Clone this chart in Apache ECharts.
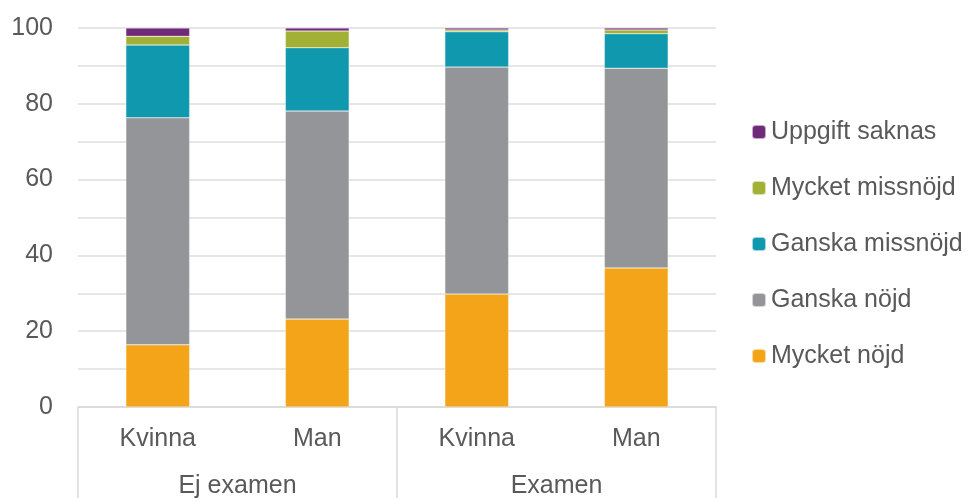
<!DOCTYPE html>
<html>
<head>
<meta charset="utf-8">
<script src="https://cdn.jsdelivr.net/npm/echarts@6/dist/echarts.min.js"></script>
<style>
  html, body { margin: 0; padding: 0; background: #fff; }
  #main { width: 980px; height: 498px; }
</style>
</head>
<body>
<div id="main"></div>
<script>
// data
var categories = ['Kvinna', 'Man', 'Kvinna', 'Man'];
var groups = ['Ej examen', 'Examen'];
var yTicks = [0, 20, 40, 60, 80, 100];

var mycketNojd = [16.4, 23.2, 29.8, 36.7];
var ganskaNojd = [59.9, 54.9, 59.9, 52.7];
var ganskaMissnojd = [19.2, 16.7, 9.3, 9.1];
var mycketMissnojd = [2.3, 4.4, 0.5, 1.0];
var uppgiftSaknas = [2.2, 0.8, 0.5, 0.5];

var seriesNames = ['Mycket nöjd', 'Ganska nöjd', 'Ganska missnöjd', 'Mycket missnöjd', 'Uppgift saknas'];
var seriesData = [mycketNojd, ganskaNojd, ganskaMissnojd, mycketMissnojd, uppgiftSaknas];
var colors = ['#F4A418', '#939598', '#1098AE', '#A2B136', '#6F2A7A'];

var txt = '#595959';
var font = 'Liberation Sans, Arial, sans-serif';

var myChart = echarts.init(document.getElementById('main'));

var series = seriesNames.map(function (name, i) {
    return {
        name: name,
        type: 'bar',
        stack: 'total',
        barWidth: '40%',
        data: seriesData[i],
        itemStyle: { color: colors[i], borderColor: 'rgba(255,255,255,0.6)', borderWidth: 0.5 }
    };
});

var option = {
    animation: false,
    textStyle: { fontFamily: font },
    grid: { left: 78, right: 264, top: 28, bottom: 91, containLabel: false, outerBoundsMode: 'none' },
    legend: {
        orient: 'vertical',
        left: 746,
        top: 113,
        itemWidth: 14,
        itemHeight: 14,
        itemGap: 28,
        data: seriesNames.slice().reverse(),
        textStyle: { color: txt, fontSize: 25, fontFamily: font, lineHeight: 28 }
    },
    xAxis: [
        {
            type: 'category',
            data: categories,
            axisLine: { show: true, lineStyle: { color: '#d9d9d9', width: 1.5 } },
            axisTick: { show: false },
            axisLabel: { color: txt, fontSize: 25, fontFamily: font, margin: 20 }
        },
        {
            type: 'category',
            position: 'bottom',
            data: groups,
            axisLine: { show: false },
            axisTick: { show: true, length: 95, lineStyle: { color: '#d9d9d9', width: 1.5 } },
            axisLabel: { color: txt, fontSize: 25, fontFamily: font, margin: 67 }
        }
    ],
    yAxis: {
        type: 'value',
        min: 0,
        max: 100,
        interval: 10,
        axisLine: { show: false },
        axisTick: { show: false },
        axisLabel: {
            color: txt, fontSize: 25, fontFamily: font, margin: 25,
            formatter: function (v) { return yTicks.indexOf(v) >= 0 ? v : ''; }
        },
        splitLine: { lineStyle: { color: '#dedede', width: 1.5 } }
    },
    series: series
};

myChart.setOption(option);
</script>
</body>
</html>
